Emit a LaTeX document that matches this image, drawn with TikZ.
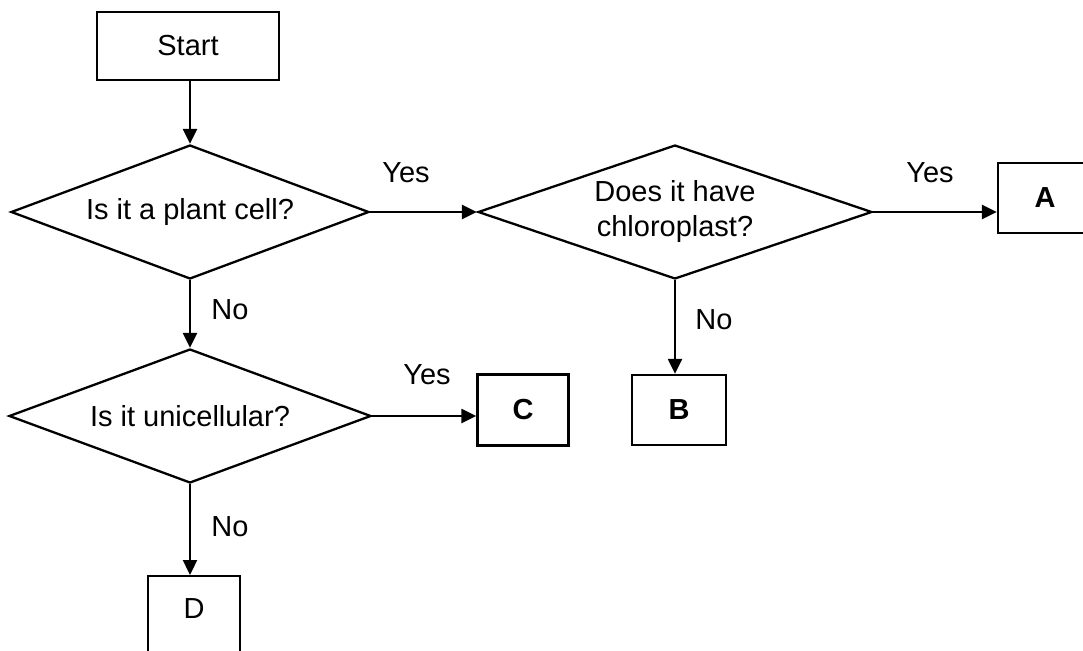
\documentclass[tikz,border=0pt]{standalone}
\usepackage{fontspec}
\setmainfont{Liberation Sans}
\usetikzlibrary{shapes.geometric,arrows.meta}
\begin{document}
\begin{tikzpicture}[x=1pt,y=-1pt,
  every node/.style={font=\fontsize{29}{35}\selectfont},
  box/.style={draw,line width=2.3pt,inner sep=0pt},
  dia/.style={draw,diamond,aspect=2.7,line width=2.3pt,inner sep=0pt,align=center},
  arr/.style={line width=2.3pt,-{Triangle[length=15pt,width=14pt]}},
  lbl/.style={inner sep=0pt}
]
\useasboundingbox (0,0) rectangle (1083,650);
\fill[white] (0,0) rectangle (1083,650);

\node[box, minimum width=182, minimum height=68] (start) at (188,46) {Start};
\node[dia, minimum width=358, minimum height=134] (d1) at (190,212) {Is it a plant cell?};
\node[dia, minimum width=394, minimum height=134] (d2) at (675,212) {Does it have\\chloroplast?};
\node[dia, minimum width=362, minimum height=134] (d3) at (190,416) {Is it unicellular?};

\node[box, minimum width=94, minimum height=70, font=\fontsize{29}{35}\selectfont\bfseries] (A) at (1045,198) {A};
\node[box, minimum width=94, minimum height=70, font=\fontsize{29}{35}\selectfont\bfseries] (B) at (679,410) {B};
\node[box, minimum width=91, minimum height=71, font=\fontsize{29}{35}\selectfont\bfseries] (C) at (523,410) {C};
\node[box, minimum width=92, text height=42pt, text depth=60pt, anchor=north] (D) at (194,575) {D};

\draw[arr] (start.south -| d1.north) -- (d1.north);
\draw[arr] (d1.east) -- (d2.west);
\draw[arr] (d2.east) -- (d2.east -| A.west);
\draw[arr] (d2.south) -- (d2.south |- B.north);
\draw[arr] (d1.south) -- (d3.north);
\draw[arr] (d3.east) -- (d3.east -| C.west);
\draw[arr] (d3.south) -- (d3.south |- D.north);

\node[lbl] (y1) at (406,173) {Yes};
\node[lbl] (y2) at (930,173) {Yes};
\node[lbl] (y3) at (427,375) {Yes};
\node[lbl] (n1) at (230,310) {No};
\node[lbl] (n2) at (230,527) {No};
\node[lbl] (n3) at (714,320) {No};
\end{tikzpicture}
\end{document}
